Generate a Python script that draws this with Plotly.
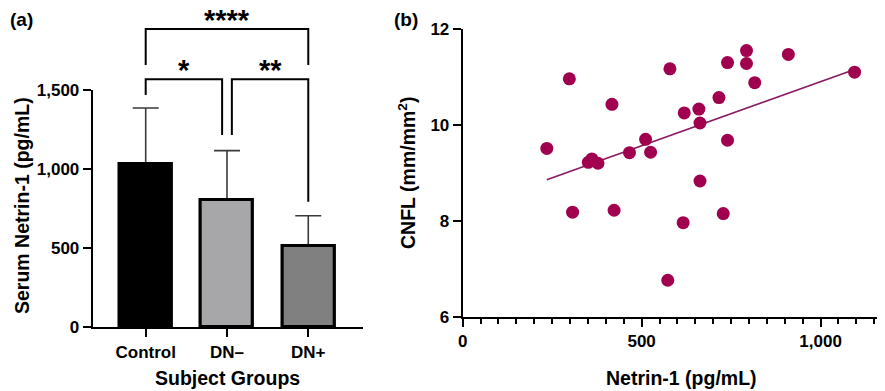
import numpy as np
import plotly.graph_objects as go

# ---------------- data ----------------
groups = ["Control", "DN–", "DN+"]
netrin_mean = [1033, 805, 515]
netrin_sd = [353, 312, 190]
bar_colors = ["#000000", "#A7A7A9", "#808080"]

# significance comparisons: (group index a, group index b, label)
comparisons = [(0, 2, "****"), (0, 1, "*"), (1, 2, "**")]

netrin_x = [235, 298, 417, 351, 361, 378, 466, 511, 525, 579, 619, 660, 663, 663,
            716, 740, 740, 793, 793, 816, 910, 1095, 307, 423, 616, 728, 573]
cnfl_y = [9.51, 10.96, 10.43, 9.22, 9.29, 9.20, 9.42, 9.70, 9.43, 11.17, 10.25, 10.33,
          10.04, 8.83, 10.57, 11.30, 9.68, 11.55, 11.28, 10.88, 11.47, 11.10, 8.18,
          8.22, 7.96, 8.15, 6.76]

left_yticks = [0, 500, 1000, 1500]
right_yticks = [6, 8, 10, 12]
right_xticks = [0, 500, 1000]

# ---------------- figure ----------------
W, H = 885, 391
OFF = 8  # page body margin
FONT = "Liberation Sans"
fig = go.Figure()


def px_x(p):
    return (p - OFF) / W


def px_y(p):
    return 1 - (p - OFF) / H


bar_style = dict(x=groups, y=netrin_mean, width=0.64,
                 marker=dict(color=bar_colors, line=dict(color="black", width=3)),
                 xaxis="x", yaxis="y", showlegend=False)
# bars carrying the (upper) SD error bars
fig.add_trace(go.Bar(
    error_y=dict(type="data", symmetric=False, array=netrin_sd,
                 arrayminus=[0] * len(groups), color="#3a3a3a",
                 thickness=1.6, width=13),
    **bar_style))
# same bars drawn again on top so the error bar base stays hidden
fig.add_trace(go.Bar(hoverinfo="skip", **bar_style))

# regression line
slope, intercept = np.polyfit(netrin_x, cnfl_y, 1)
fx = np.array([min(netrin_x), max(netrin_x)])
fig.add_trace(go.Scatter(
    x=fx, y=slope * fx + intercept, mode="lines",
    line=dict(color="#8A1A62", width=1.6),
    xaxis="x2", yaxis="y2", showlegend=False, hoverinfo="skip",
))
fig.add_trace(go.Scatter(
    x=netrin_x, y=cnfl_y, mode="markers",
    marker=dict(color="#A1004F", size=13, line=dict(width=0)),
    xaxis="x2", yaxis="y2", showlegend=False,
))

axis_common = dict(showline=True, linecolor="black", linewidth=2,
                   ticks="outside", tickcolor="black", tickwidth=2, ticklen=8,
                   showgrid=False, zeroline=False,
                   tickfont=dict(family=FONT, size=17, color="black", weight="bold"))

fig.update_layout(
    width=W, height=H,
    margin=dict(l=0, r=0, t=0, b=0, autoexpand=False),
    paper_bgcolor="white", plot_bgcolor="white",
    barmode="overlay", bargap=0,
    xaxis=dict(domain=[px_x(92.7), px_x(363.3)], range=[-0.652, 2.677],
               anchor="y", type="category", **axis_common),
    yaxis=dict(domain=[px_y(327.3), px_y(90)], range=[0, 1500], anchor="x",
               tickvals=left_yticks, tickformat=",d", **axis_common),
    xaxis2=dict(domain=[px_x(462.7), px_x(885)], range=[0, 1180], anchor="y2",
                tickvals=right_xticks, tickformat=",d",
                minor=dict(dtick=50, ticks="outside", ticklen=5, tickwidth=2,
                           tickcolor="black"),
                **axis_common),
    yaxis2=dict(domain=[px_y(316.7), px_y(29)], range=[6, 12], anchor="x2",
                tickvals=right_yticks, **axis_common),
)

# significance brackets
ann = []
shapes = []
levels = {"****": 29, "*": 79.3, "**": 79.3}
for a, b, lab in comparisons:
    top = px_y(levels[lab])
    if lab == "****":
        xa, xb = a, b
        ya, yb = px_y(65), px_y(65)
    elif lab == "*":
        xa, xb = a, b - 0.06
        ya, yb = px_y(95), px_y(135)
    else:
        xa, xb = a + 0.06, b
        ya, yb = px_y(135), px_y(201.7)
    shapes.append(dict(type="path", xref="x", yref="paper",
                       path=f"M {xa},{ya} L {xa},{top} L {xb},{top} L {xb},{yb}",
                       line=dict(color="black", width=2)))
    ann.append(dict(x=(xa + xb) / 2, y=top - 9 / H, xref="x", yref="paper",
                    text=lab, showarrow=False, xanchor="center", yanchor="bottom",
                    font=dict(family=FONT, size=29, color="black", weight="bold")))

title_font = dict(family=FONT, size=19.5, color="black", weight="bold")
label_font = dict(family=FONT, size=19, color="black", weight="bold")
common = dict(xref="paper", yref="paper", showarrow=False, xanchor="center", yanchor="middle")
ann += [
    dict(x=px_x(22), y=px_y(206), text="Serum Netrin-1 (pg/mL)", textangle=-90,
         font=title_font, **common),
    dict(x=px_x(227.5), y=px_y(378), text="Subject Groups", font=title_font, **common),
    dict(x=px_x(681), y=px_y(378), text="Netrin-1 (pg/mL)", font=title_font, **common),
    dict(x=px_x(407), y=px_y(173), text="CNFL (mm/mm<sup>2</sup>)", textangle=-90,
         font=title_font, **common),
    dict(x=px_x(21.5), y=px_y(19), text="(a)", font=label_font, **common),
    dict(x=px_x(406), y=px_y(19), text="(b)", font=label_font, **common),
]
fig.update_layout(annotations=ann, shapes=shapes)

fig.write_html("out.html")
